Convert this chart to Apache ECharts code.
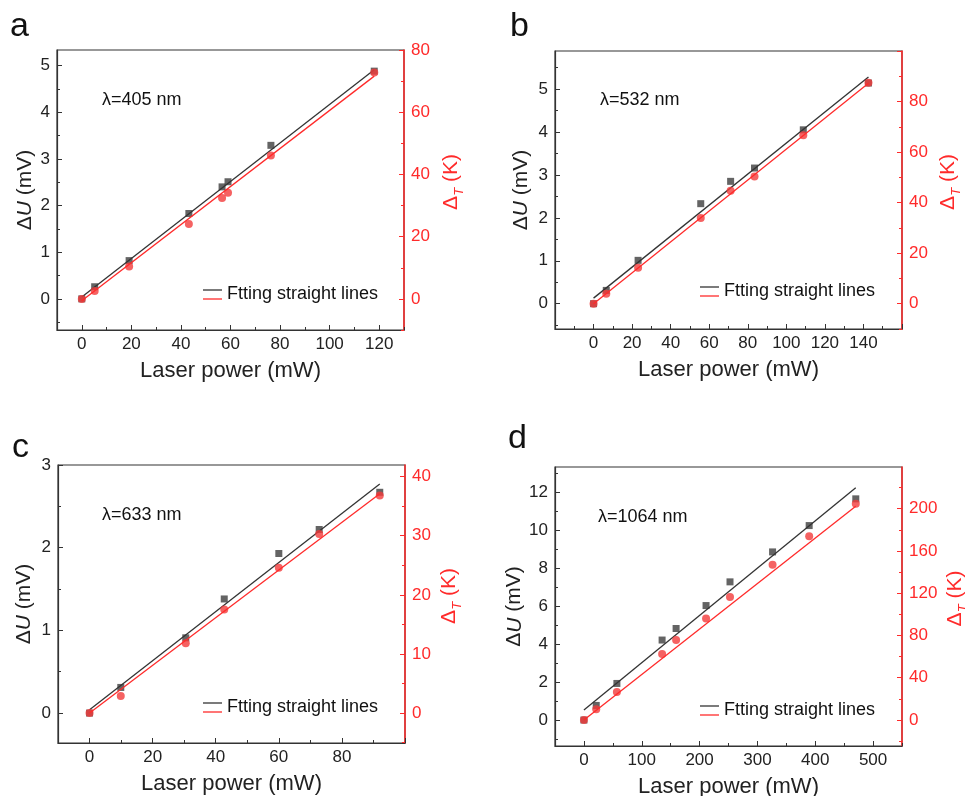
<!DOCTYPE html>
<html><head><meta charset="utf-8">
<script src="https://cdn.jsdelivr.net/npm/echarts@6/dist/echarts.min.js"></script>
<style>html,body{margin:0;padding:0;background:#fff}#c{width:965px;height:796px}</style>
</head><body><div id="c"></div>
<script>
// ---------- Panel a : λ=405 nm ----------
const powerA = [0, 5.2, 19.1, 43.2, 56.6, 59.0, 76.3, 118.0];
const voltA  = [0, 0.26, 0.82, 1.83, 2.40, 2.51, 3.29, 4.88];
const tempA  = [0, 2.5, 10.4, 24.1, 32.4, 34.1, 46.1, 72.8];
const fitVoltA = [[0, 0.04], [118, 4.91]];
const fitTempA = [[0, -0.6], [118, 71.6]];
const xTicksA = [0, 20, 40, 60, 80, 100, 120];
const yTicksA = [0, 1, 2, 3, 4, 5];
const rTicksA = [0, 20, 40, 60, 80];

// ---------- Panel b : λ=532 nm ----------
const powerB = [0, 6.6, 23.1, 55.6, 71.1, 83.5, 108.8, 142.6];
const voltB  = [0, 0.31, 1.01, 2.33, 2.85, 3.16, 4.05, 5.14];
const tempB  = [0, 3.9, 14.2, 33.9, 44.7, 50.3, 66.7, 87.4];
const fitVoltB = [[0, 0.13], [142.6, 5.28]];
const fitTempB = [[0, 0], [142.6, 87.2]];
const xTicksB = [0, 20, 40, 60, 80, 100, 120, 140];
const yTicksB = [0, 1, 2, 3, 4, 5];
const rTicksB = [0, 20, 40, 60, 80];

// ---------- Panel c : λ=633 nm ----------
const powerC = [0, 9.9, 30.5, 42.7, 60.0, 72.8, 92.0];
const voltC  = [0, 0.31, 0.91, 1.38, 1.93, 2.22, 2.67];
const tempC  = [0, 2.9, 11.8, 17.5, 24.6, 30.3, 36.8];
const fitVoltC = [[0, 0.04], [92, 2.77]];
const fitTempC = [[0, 0], [92, 37.1]];
const xTicksC = [0, 20, 40, 60, 80];
const yTicksC = [0, 1, 2, 3];
const rTicksC = [0, 10, 20, 30, 40];

// ---------- Panel d : λ=1064 nm ----------
const powerD = [0, 21.3, 57.0, 135.2, 159.4, 211.2, 252.6, 326.2, 389.5, 470.1];
const voltD  = [0, 0.77, 1.93, 4.22, 4.83, 6.04, 7.29, 8.87, 10.26, 11.67];
const tempD  = [0, 10.1, 26.5, 62.4, 75.6, 96.1, 116.5, 146.8, 173.9, 204.7];
const fitVoltD = [[0, 0.53], [470, 12.26]];
const fitTempD = [[0, 0], [470, 202.2]];
const xTicksD = [0, 100, 200, 300, 400, 500];
const yTicksD = [0, 2, 4, 6, 8, 10, 12];
const rTicksD = [0, 40, 80, 120, 160, 200];

const FONT = 'Liberation Sans, Arial, Helvetica, sans-serif';
const DARK = '#333333';
const RED = '#ff2a2a';
const PT_RED = '#f23b3b';
const PT_DARK = '#3d3d3d';

function steps(min, max, step, offset) {
  const out = [];
  const start = Math.ceil((min - offset) / step - 1e-9) * step + offset;
  for (let v = start; v <= max + 1e-9; v += step) out.push(+v.toFixed(6));
  return out;
}

const panels = [
  { letter: 'a', lam: 'λ=405 nm', grid: {left: 57, top: 50, width: 347, height: 280},
    x: powerA, u: voltA, t: tempA, fu: fitVoltA, ft: fitTempA,
    xr: [-10, 130], xStep: 20, xMinor: 10, xLab: xTicksA,
    yr: [-0.667, 5.333], yStep: 1, yMinor: 0.5, yLab: yTicksA,
    rr: [-10, 80], rStep: 20, rMinor: 10, rLab: rTicksA,
    nameGapL: 21, nameGapR: 34,
    letterPos: [10, 27], lamPos: [102, 100], leg: [203, 290] },
  { letter: 'b', lam: 'λ=532 nm', grid: {left: 555, top: 51, width: 347, height: 278},
    x: powerB, u: voltB, t: tempB, fu: fitVoltB, ft: fitTempB,
    xr: [-20, 160], xStep: 20, xMinor: 10, xLab: xTicksB,
    yr: [-0.589, 5.886], yStep: 1, yMinor: 0.5, yLab: yTicksB,
    rr: [-10, 100], rStep: 20, rMinor: 10, rLab: rTicksB,
    nameGapL: 23, nameGapR: 33,
    letterPos: [510, 27], lamPos: [600, 100], leg: [700, 287] },
  { letter: 'c', lam: 'λ=633 nm', grid: {left: 58, top: 465, width: 347, height: 278},
    x: powerC, u: voltC, t: tempC, fu: fitVoltC, ft: fitTempC,
    xr: [-10, 100], xStep: 20, xMinor: 10, xLab: xTicksC,
    yr: [-0.362, 3], yStep: 1, yMinor: 0.5, yLab: yTicksC,
    rr: [-5.07, 41.97], rStep: 10, rMinor: 5, rLab: rTicksC,
    nameGapL: 23, nameGapR: 31,
    letterPos: [12, 448], lamPos: [102, 515], leg: [203, 703] },
  { letter: 'd', lam: 'λ=1064 nm', grid: {left: 555, top: 467, width: 347, height: 279},
    x: powerD, u: voltD, t: tempD, fu: fitVoltD, ft: fitTempD,
    xr: [-50, 550], xStep: 100, xMinor: 50, xLab: xTicksD,
    yr: [-1.37, 13.35], yStep: 2, yMinor: 1, yLab: yTicksD,
    rr: [-24.6, 239.4], rStep: 40, rMinor: 20, rLab: rTicksD,
    nameGapL: 27, nameGapR: 40,
    letterPos: [508, 439], lamPos: [598, 517], leg: [700, 706] }
];

const option = {
  backgroundColor: '#ffffff',
  animation: false,
  textStyle: { fontFamily: FONT },
  grid: [], xAxis: [], yAxis: [], series: [], graphic: []
};

panels.forEach((p, i) => {
  option.grid.push(Object.assign({ show: true, borderColor: DARK, borderWidth: 1.2, backgroundColor: 'transparent',
    containLabel: false, outerBoundsMode: 'none' }, p.grid));
  const xMajor = steps(p.xr[0], p.xr[1], p.xStep, 0);
  const xMin = steps(p.xr[0], p.xr[1], p.xMinor, 0).filter(v => !xMajor.includes(v));
  const yMajor = steps(p.yr[0], p.yr[1], p.yStep, 0);
  const yMin = steps(p.yr[0], p.yr[1], p.yMinor, 0).filter(v => !yMajor.includes(v));
  const rMajor = steps(p.rr[0], p.rr[1], p.rStep, 0);
  const rMin = steps(p.rr[0], p.rr[1], p.rMinor, 0).filter(v => !rMajor.includes(v));

  option.xAxis.push({
    gridIndex: i, type: 'value', min: p.xr[0], max: p.xr[1],
    axisLine: { onZero: false, lineStyle: { color: DARK, width: 1.2 } },
    axisTick: { inside: true, length: 5, customValues: xMajor, lineStyle: { color: DARK, width: 1 } },
    axisLabel: { customValues: p.xLab, fontSize: 17, color: '#222', margin: 6, fontFamily: FONT },
    splitLine: { show: false },
    name: 'Laser power (mW)', nameLocation: 'middle', nameGap: 30,
    nameTextStyle: { fontSize: 22, color: '#222', fontFamily: FONT }
  });
  option.xAxis.push({
    gridIndex: i, type: 'value', min: p.xr[0], max: p.xr[1], position: 'bottom',
    axisLine: { show: false, onZero: false },
    axisTick: { inside: true, length: 3, customValues: xMin, lineStyle: { color: DARK, width: 1 } },
    axisLabel: { show: false }, splitLine: { show: false }
  });
  option.yAxis.push({
    gridIndex: i, type: 'value', min: p.yr[0], max: p.yr[1], position: 'left',
    axisLine: { show: true, onZero: false, lineStyle: { color: DARK, width: 1.2 } },
    axisTick: { show: true, inside: true, length: 5, customValues: yMajor, lineStyle: { color: DARK, width: 1 } },
    axisLabel: { customValues: p.yLab, fontSize: 17, color: '#222', margin: 7, fontFamily: FONT },
    splitLine: { show: false },
    name: '{d|Δ}{u|U}{d| (mV)}', nameLocation: 'middle', nameGap: p.nameGapL, nameRotate: 90,
    nameTextStyle: { fontSize: 20, color: '#222', fontFamily: FONT,
      rich: { d: { fontSize: 21, color: '#222', fontFamily: FONT },
              u: { fontSize: 21, color: '#222', fontStyle: 'italic', fontFamily: FONT } } }
  });
  option.yAxis.push({
    gridIndex: i, type: 'value', min: p.yr[0], max: p.yr[1], position: 'left',
    axisLine: { show: false, onZero: false },
    axisTick: { show: true, inside: true, length: 3, customValues: yMin, lineStyle: { color: DARK, width: 1 } },
    axisLabel: { show: false }, splitLine: { show: false }
  });
  option.yAxis.push({
    gridIndex: i, type: 'value', min: p.rr[0], max: p.rr[1], position: 'right',
    axisLine: { show: true, onZero: false, lineStyle: { color: RED, width: 1.5 } },
    axisTick: { show: true, inside: true, length: 5, customValues: rMajor, lineStyle: { color: RED, width: 1 } },
    axisLabel: { customValues: p.rLab, fontSize: 17, color: RED, margin: 7, fontFamily: FONT },
    splitLine: { show: false },
    name: '{d|Δ}{s|T}{d| (K)}', nameLocation: 'middle', nameGap: p.nameGapR, nameRotate: 90,
    nameTextStyle: { fontSize: 20, color: RED, fontFamily: FONT, padding: [0, 0, 0, 16],
      rich: { d: { fontSize: 21, color: RED, fontFamily: FONT, lineHeight: 24, verticalAlign: 'bottom' },
              s: { fontSize: 13, color: RED, fontStyle: 'italic', fontFamily: FONT, lineHeight: 18, verticalAlign: 'bottom', padding: [0, 0, -4, 0] } } }
  });
  option.yAxis.push({
    gridIndex: i, type: 'value', min: p.rr[0], max: p.rr[1], position: 'right',
    axisLine: { show: false, onZero: false },
    axisTick: { show: true, inside: true, length: 3, customValues: rMin, lineStyle: { color: RED, width: 1 } },
    axisLabel: { show: false }, splitLine: { show: false }
  });

  const xi = 2 * i, yl = 4 * i, yr = 4 * i + 2;
  option.series.push({
    type: 'scatter', xAxisIndex: xi, yAxisIndex: yl, symbol: 'rect', symbolSize: 7,
    itemStyle: { color: PT_DARK }, data: p.x.map((v, k) => [v, p.u[k]]), z: 2
  });
  option.series.push({
    type: 'line', xAxisIndex: xi, yAxisIndex: yl, showSymbol: false, symbol: 'none',
    lineStyle: { color: DARK, width: 1.3 }, data: p.fu, z: 3
  });
  option.series.push({
    type: 'scatter', xAxisIndex: xi, yAxisIndex: yr, symbol: 'circle', symbolSize: 8,
    itemStyle: { color: PT_RED }, data: p.x.map((v, k) => [v, p.t[k]]), z: 4
  });
  option.series.push({
    type: 'line', xAxisIndex: xi, yAxisIndex: yr, showSymbol: false, symbol: 'none',
    lineStyle: { color: RED, width: 1.3 }, data: p.ft, z: 5
  });

  option.graphic.push({
    type: 'text', x: p.letterPos[0], y: p.letterPos[1],
    style: { text: p.letter, font: '34px ' + FONT, fill: '#111', verticalAlign: 'middle' }
  });
  option.graphic.push({
    type: 'text', x: p.lamPos[0], y: p.lamPos[1],
    style: { text: p.lam, font: '18px ' + FONT, fill: '#111', verticalAlign: 'middle' }
  });
  const lx = p.leg[0], ly = p.leg[1];
  option.graphic.push({ type: 'line', shape: { x1: lx, y1: ly, x2: lx + 19, y2: ly }, style: { stroke: DARK, lineWidth: 1.3 } });
  option.graphic.push({ type: 'line', shape: { x1: lx, y1: ly + 9, x2: lx + 19, y2: ly + 9 }, style: { stroke: RED, lineWidth: 1.3 } });
  option.graphic.push({
    type: 'text', x: lx + 24, y: ly + 4.5,
    style: { text: 'Ftting straight lines', font: '18px ' + FONT, fill: '#111', verticalAlign: 'middle' }
  });
});

const chart = echarts.init(document.getElementById('c'), null, { renderer: 'canvas' });
chart.setOption(option);
</script>
</body></html>
